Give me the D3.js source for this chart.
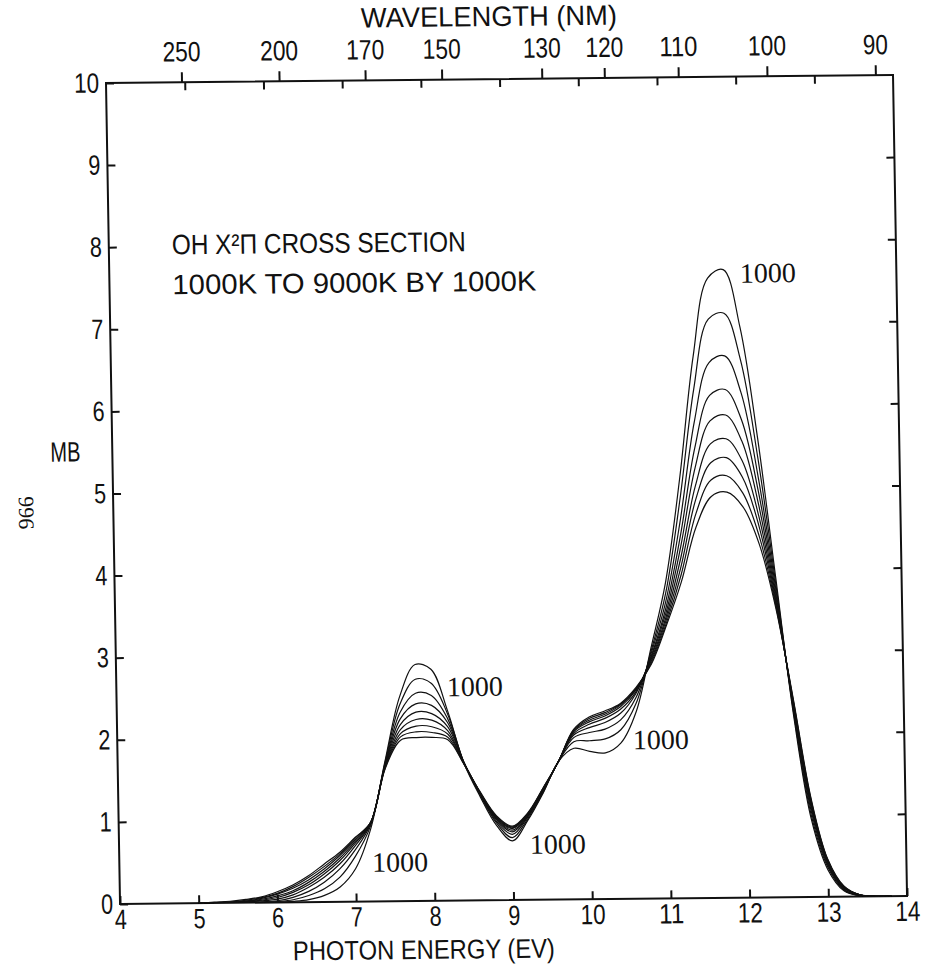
<!DOCTYPE html>
<html>
<head>
<meta charset="utf-8">
<script src="https://cdn.jsdelivr.net/npm/d3@7/dist/d3.min.js"></script>
<style>
  body { margin: 0; background: #fff; }
  svg text { fill: #111; }
  .plotter { font-family: "Liberation Sans", Arial, sans-serif; font-size: 28px; }
  .serif { font-family: "Liberation Serif", "Times New Roman", serif; }
</style>
</head>
<body>
<div id="chart-area"></div>
<script>
// photon energy grid (eV) shared by all curves
const energy = [5.0, 5.2, 5.4, 5.6, 5.8, 6.0, 6.2, 6.4, 6.6, 6.8, 7.0, 7.2, 7.4, 7.6, 7.8,
  8.0, 8.2, 8.4, 8.6, 8.8, 9.0, 9.2, 9.4, 9.6, 9.8, 10.0, 10.2, 10.4, 10.6, 10.8,
  11.0, 11.2, 11.4, 11.6, 11.8, 12.0, 12.2, 12.4, 12.6, 12.8, 13.0, 13.2, 13.4, 13.6, 13.8];

// cross section in Mb, one list per temperature
const t1000 = [0,0,0,0,0,0,0.01,0.03,0.08,0.18,0.40,0.88,1.72,2.50,2.88,2.82,2.32,1.67,1.26,0.91,0.72,0.97,1.30,1.68,1.84,1.80,1.78,1.90,2.28,3.05,3.85,5.10,6.60,7.55,7.65,6.95,5.60,3.90,2.20,0.95,0.33,0.07,0.01,0,0];
const t2000 = [0,0,0,0,0,0.01,0.03,0.08,0.16,0.30,0.55,0.92,1.70,2.40,2.70,2.65,2.28,1.68,1.28,0.94,0.76,0.99,1.31,1.68,1.92,1.93,1.95,2.06,2.38,3.01,3.72,4.85,6.20,7.05,7.12,6.55,5.35,3.82,2.24,1.00,0.36,0.08,0.01,0,0];
const t3000 = [0,0,0,0,0.01,0.02,0.06,0.13,0.24,0.40,0.63,0.94,1.68,2.30,2.53,2.50,2.22,1.68,1.29,0.96,0.80,1.01,1.32,1.68,1.97,2.03,2.07,2.18,2.45,2.98,3.62,4.60,5.80,6.52,6.60,6.15,5.12,3.75,2.27,1.05,0.38,0.09,0.01,0,0];
const t4000 = [0,0,0,0.01,0.02,0.04,0.09,0.18,0.30,0.46,0.68,0.95,1.67,2.22,2.40,2.38,2.17,1.68,1.30,0.98,0.83,1.02,1.33,1.68,2.00,2.09,2.15,2.26,2.50,2.95,3.54,4.42,5.48,6.12,6.19,5.82,4.94,3.69,2.30,1.09,0.40,0.10,0.02,0,0];
const t5000 = [0,0,0,0.01,0.03,0.06,0.12,0.21,0.34,0.50,0.71,0.95,1.66,2.15,2.30,2.28,2.12,1.68,1.30,0.99,0.85,1.03,1.34,1.68,2.02,2.13,2.20,2.31,2.52,2.93,3.48,4.28,5.24,5.81,5.88,5.56,4.78,3.64,2.32,1.12,0.42,0.11,0.02,0,0];
const t6000 = [0,0,0.01,0.02,0.04,0.08,0.14,0.24,0.37,0.53,0.73,0.96,1.65,2.09,2.21,2.20,2.07,1.67,1.31,1.00,0.87,1.04,1.35,1.68,2.04,2.16,2.23,2.34,2.54,2.91,3.43,4.15,5.02,5.53,5.59,5.32,4.64,3.60,2.34,1.15,0.43,0.11,0.02,0,0];
const t7000 = [0,0,0.01,0.02,0.05,0.10,0.17,0.27,0.40,0.56,0.75,0.96,1.64,2.04,2.13,2.12,2.03,1.67,1.31,1.01,0.88,1.05,1.35,1.68,2.05,2.18,2.25,2.36,2.55,2.89,3.39,4.04,4.85,5.30,5.36,5.12,4.52,3.56,2.36,1.17,0.44,0.12,0.02,0,0];
const t8000 = [0,0,0.01,0.03,0.06,0.11,0.19,0.30,0.43,0.58,0.77,0.96,1.63,2.00,2.06,2.05,1.99,1.66,1.31,1.02,0.89,1.05,1.36,1.68,2.06,2.20,2.27,2.37,2.56,2.87,3.35,3.94,4.68,5.09,5.14,4.93,4.40,3.53,2.38,1.19,0.45,0.12,0.02,0,0];
const t9000 = [0,0.01,0.02,0.04,0.07,0.13,0.21,0.32,0.46,0.60,0.78,0.96,1.62,1.96,1.99,1.99,1.96,1.66,1.32,1.03,0.90,1.06,1.36,1.68,2.07,2.22,2.29,2.38,2.57,2.85,3.32,3.85,4.52,4.89,4.94,4.76,4.30,3.50,2.40,1.21,0.46,0.13,0.02,0,0];

const temps = [1000, 2000, 3000, 4000, 5000, 6000, 7000, 8000, 9000];
const curves = [t1000, t2000, t3000, t4000, t5000, t6000, t7000, t8000, t9000];

const evTicks = [4, 5, 6, 7, 8, 9, 10, 11, 12, 13, 14];
const mbTicks = [0, 1, 2, 3, 4, 5, 6, 7, 8, 9, 10];
const nmTicks = [250, 200, 170, 150, 130, 120, 110, 100, 90];

// where the "1000" tags sit, in (eV, Mb)
const tagEnergy = [12.01, 8.20, 10.55, 9.22, 7.21];
const tagMb = [7.49, 2.49, 1.82, 0.56, 0.36];

const HC = 1239.84; // eV*nm
const PITCH = 13;   // plotter lettering is narrow and evenly spaced

const width = 787;
const height = 821;

const svg = d3.select("#chart-area")
  .append("svg")
  .attr("width", 926)
  .attr("height", 971);

// the scanned page is slightly sheared, so the whole figure is too
const g = svg.append("g")
  .attr("class", "plotter")
  .attr("transform", "matrix(1,-0.0102,0.0171,1,106,83)");

const x = d3.scaleLinear().domain([4, 14]).range([0, width]);
const y = d3.scaleLinear().domain([0, 10]).range([height, 0]);

g.append("clipPath").attr("id", "clip")
  .append("rect").attr("width", width).attr("height", height);

// bottom axis, ticks pointing in
g.append("g")
  .attr("transform", `translate(0,${height})`)
  .call(d3.axisBottom(x).tickValues(evTicks).tickSizeInner(-8).tickSizeOuter(0).tickPadding(5));

// top axis: inward eV ticks, outward wavelength ticks
g.append("g")
  .call(d3.axisBottom(x).tickValues(evTicks.slice(1, -1)).tickSize(8).tickFormat(""));

g.append("g")
  .call(d3.axisTop(x).tickValues(nmTicks.map(l => HC / l)).tickSize(10).tickPadding(11)
    .tickFormat((d, i) => nmTicks[i]));

g.append("g")
  .call(d3.axisLeft(y).tickValues(mbTicks).tickSizeInner(-8).tickSizeOuter(0).tickPadding(7));

g.append("g")
  .attr("transform", `translate(${width},0)`)
  .call(d3.axisRight(y).tickValues(mbTicks.slice(1, -1)).tickSizeInner(-8).tickSizeOuter(0).tickFormat(""));

g.selectAll(".domain").remove();
g.selectAll(".tick line").attr("stroke", "#111").attr("stroke-width", 2);
g.selectAll(".tick text")
  .attr("font-size", 28)
  .attr("fill", "#111")
  .attr("textLength", function() { return this.textContent.length * PITCH - 1; })
  .attr("lengthAdjust", "spacingAndGlyphs");

g.append("rect")
  .attr("width", width)
  .attr("height", height)
  .attr("fill", "none")
  .attr("stroke", "#111")
  .attr("stroke-width", 2);

const line = d3.line()
  .x((d, i) => x(energy[i]))
  .y(d => y(d))
  .curve(d3.curveCatmullRom);

g.append("g")
  .attr("clip-path", "url(#clip)")
  .selectAll("path")
  .data(curves)
  .enter()
  .append("path")
  .attr("d", line)
  .attr("fill", "none")
  .attr("stroke", "#111")
  .attr("stroke-width", 1.2);

// labels
g.append("text")
  .attr("x", 384).attr("y", -53)
  .attr("text-anchor", "middle")
  .attr("textLength", 256)
  .attr("lengthAdjust", "spacingAndGlyphs")
  .text("WAVELENGTH (NM)");

g.append("text")
  .attr("x", 303).attr("y", 879)
  .attr("font-size", 27)
  .attr("text-anchor", "middle")
  .attr("textLength", 262)
  .attr("lengthAdjust", "spacingAndGlyphs")
  .text("PHOTON ENERGY (EV)");

g.append("text")
  .attr("x", -47).attr("y", 378)
  .attr("text-anchor", "middle")
  .attr("textLength", 30)
  .attr("lengthAdjust", "spacingAndGlyphs")
  .text("MB");

g.append("text").attr("x", 63).attr("y", 172)
  .attr("textLength", 294).attr("lengthAdjust", "spacingAndGlyphs")
  .text("OH X\u00B2\u03A0 CROSS SECTION");

g.append("text").attr("x", 63).attr("y", 212)
  .attr("textLength", 364).attr("lengthAdjust", "spacingAndGlyphs")
  .text(`${temps[0]}K TO ${temps[temps.length - 1]}K BY ${temps[1] - temps[0]}K`);

g.selectAll(".tag")
  .data(tagEnergy)
  .enter()
  .append("text")
  .attr("class", "tag serif")
  .attr("x", d => x(d))
  .attr("y", (d, i) => y(tagMb[i]))
  .attr("font-size", 28)
  .text(temps[0]);

// page number in the margin
g.append("text")
  .attr("class", "serif")
  .attr("font-size", 22)
  .attr("text-anchor", "middle")
  .attr("transform", "translate(-80,429) rotate(-90)")
  .text("966");
</script>
</body>
</html>
